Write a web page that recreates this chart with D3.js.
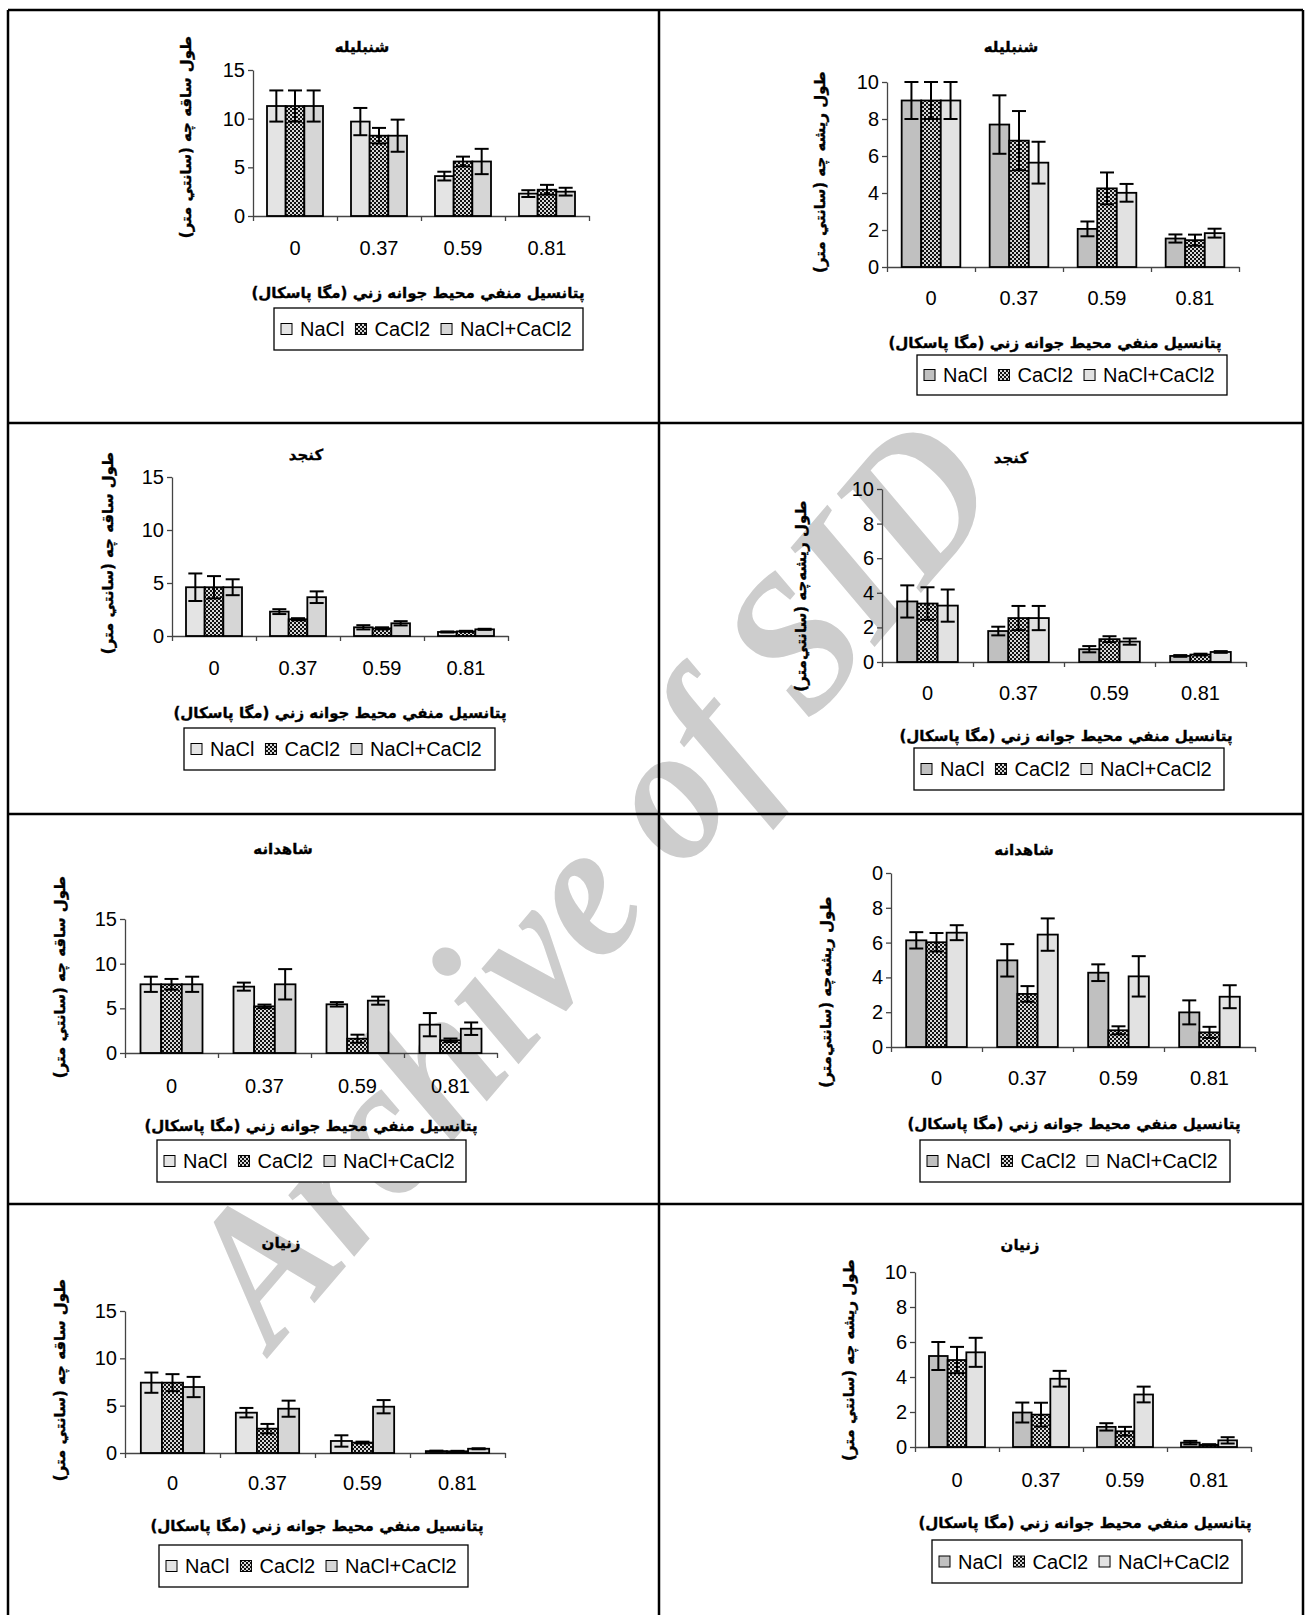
<!DOCTYPE html>
<html>
<head>
<meta charset="utf-8">
<script src="https://cdn.jsdelivr.net/npm/d3@7"></script>
<style>
body { margin: 0; background: #fff; }
svg { display: block; }
.fa { font-family: "DejaVu Sans", sans-serif; font-weight: bold; direction: rtl; stroke: #000; stroke-width: 0.35px; }
.lat { font-family: "Liberation Sans", Arial, sans-serif; }
</style>
</head>
<body>
<div id="chart"></div>
<script>
// categories = negative potential of the germination medium (MPa)
const categories = ["0", "0.37", "0.59", "0.81"]
const treatments = ["NaCl", "CaCl2", "NaCl+CaCl2"]

const plantNames = ["شنبليله", "كنجد", "شاهدانه", "زنيان"]
const stemLabel = "طول ساقه چه (سانتي متر)"
const rootLabel = "طول ريشه چه (سانتي متر)"
const rootLabel2 = "طول ريشه‌چه (سانتي‌متر)"
const xTitle = "پتانسيل منفي محيط جوانه زني (مگا پاسكال)"
const watermark = "Archive of SID"

const stemTicks = [0, 5, 10, 15]
const rootTicks = [0, 2, 4, 6, 8, 10]
const rootTickLabels = ["0", "2", "4", "6", "8", "10"]
const shahdaneRootTickLabels = ["0", "2", "4", "6", "8", "0"] // the top label is cut in the original

// one row per treatment (NaCl, CaCl2, NaCl+CaCl2), one column per category
const shanbalileStem = [[11.3, 9.7, 4.1, 2.3], [11.3, 8.25, 5.6, 2.7], [11.3, 8.25, 5.6, 2.5]]
const shanbalileStemErr = [[1.6, 1.4, 0.45, 0.35], [1.6, 0.8, 0.5, 0.5], [1.6, 1.65, 1.3, 0.4]]
const shanbalileRoot = [[9.0, 7.7, 2.06, 1.54], [9.0, 6.83, 4.25, 1.45], [9.0, 5.64, 4.01, 1.83]]
const shanbalileRootErr = [[1.0, 1.58, 0.4, 0.22], [1.0, 1.6, 0.86, 0.3], [1.0, 1.13, 0.48, 0.24]]
const konjedStem = [[4.6, 2.3, 0.82, 0.38], [4.6, 1.58, 0.72, 0.44], [4.6, 3.66, 1.2, 0.63]]
const konjedStemErr = [[1.3, 0.23, 0.2, 0.05], [1.05, 0.1, 0.1, 0.05], [0.75, 0.55, 0.2, 0.05]]
const konjedRoot = [[3.5, 1.79, 0.74, 0.35], [3.38, 2.54, 1.32, 0.43], [3.26, 2.54, 1.18, 0.58]]
const konjedRootErr = [[0.93, 0.25, 0.18, 0.05], [0.94, 0.7, 0.17, 0.05], [0.93, 0.7, 0.18, 0.05]]
const shahdaneStem = [[7.69, 7.43, 5.45, 3.17], [7.69, 5.22, 1.6, 1.42], [7.69, 7.69, 5.86, 2.72]]
const shahdaneStemErr = [[0.85, 0.45, 0.25, 1.3], [0.6, 0.2, 0.45, 0.2], [0.85, 1.7, 0.45, 0.7]]
const shahdaneRoot = [[6.13, 4.98, 4.27, 1.99], [6.02, 3.05, 0.96, 0.84], [6.57, 6.46, 4.06, 2.89]]
const shahdaneRootErr = [[0.47, 0.93, 0.48, 0.69], [0.53, 0.45, 0.23, 0.32], [0.43, 0.93, 1.16, 0.66]]
const zenyanStem = [[7.43, 4.26, 1.27, 0.2], [7.43, 2.57, 1.1, 0.18], [6.97, 4.68, 4.89, 0.45]]
const zenyanStemErr = [[1.07, 0.5, 0.6, 0.05], [0.9, 0.5, 0.1, 0.05], [1.07, 0.85, 0.7, 0.05]]
const zenyanRoot = [[5.2, 1.97, 1.15, 0.25], [4.97, 1.85, 0.9, 0.13], [5.41, 3.9, 3.0, 0.38]]
const zenyanRootErr = [[0.8, 0.57, 0.21, 0.1], [0.75, 0.68, 0.25, 0.03], [0.83, 0.45, 0.45, 0.18]]

// page layout
const width = 1308
const height = 1615
const gridX = [8, 659, 1303]
const gridY = [10, 423, 814, 1204]

// fills: stem charts (left column) and root charts (right column)
const stemFills = ["#e4e4e4", "url(#checker)", "#d6d6d6"]
const rootFills = ["#c0c0c0", "url(#checker)", "#e2e2e2"]

// axis box + text positions of each panel
const panels = [
  {title: plantNames[0], ylab: stemLabel, mean: shanbalileStem, err: shanbalileStemErr, fills: stemFills, ticks: stemTicks, tickLabels: null, yMax: 15,
   x: 253, yTop: 70, y0: 216, band: 84, titleXY: [362, 47], catY: 248, xtXY: [418, 292], ylXY: [186, 137], legend: [274, 308, 309, 42]},
  {title: plantNames[0], ylab: rootLabel, mean: shanbalileRoot, err: shanbalileRootErr, fills: rootFills, ticks: rootTicks, tickLabels: rootTickLabels, yMax: 10,
   x: 887, yTop: 82, y0: 267, band: 88, titleXY: [1011, 47], catY: 298, xtXY: [1055, 342], ylXY: [820, 172], legend: [917, 355, 310, 40]},
  {title: plantNames[1], ylab: stemLabel, mean: konjedStem, err: konjedStemErr, fills: stemFills, ticks: stemTicks, tickLabels: null, yMax: 15,
   x: 172, yTop: 477, y0: 636, band: 84, titleXY: [306, 455], catY: 668, xtXY: [340, 712], ylXY: [108, 553], legend: [184, 728, 311, 42]},
  {title: plantNames[1], ylab: rootLabel2, mean: konjedRoot, err: konjedRootErr, fills: rootFills, ticks: rootTicks, tickLabels: rootTickLabels, yMax: 10,
   x: 882, yTop: 489, y0: 662, band: 91, titleXY: [1011, 458], catY: 693, xtXY: [1066, 735], ylXY: [801, 596], legend: [914, 748, 310, 42]},
  {title: plantNames[2], ylab: stemLabel, mean: shahdaneStem, err: shahdaneStemErr, fills: stemFills, ticks: stemTicks, tickLabels: null, yMax: 15,
   x: 125, yTop: 919, y0: 1053, band: 93, titleXY: [283, 849], catY: 1086, xtXY: [311, 1125], ylXY: [60, 977], legend: [157, 1140, 309, 42]},
  {title: plantNames[2], ylab: rootLabel2, mean: shahdaneRoot, err: shahdaneRootErr, fills: rootFills, ticks: rootTicks, tickLabels: shahdaneRootTickLabels, yMax: 10,
   x: 891, yTop: 873, y0: 1047, band: 91, titleXY: [1024, 850], catY: 1078, xtXY: [1074, 1123], ylXY: [826, 992], legend: [920, 1140, 310, 42]},
  {title: plantNames[3], ylab: stemLabel, mean: zenyanStem, err: zenyanStemErr, fills: stemFills, ticks: stemTicks, tickLabels: null, yMax: 15,
   x: 125, yTop: 1311, y0: 1453, band: 95, titleXY: [281, 1243], catY: 1483, xtXY: [317, 1525], ylXY: [60, 1380], legend: [159, 1545, 309, 42]},
  {title: plantNames[3], ylab: rootLabel, mean: zenyanRoot, err: zenyanRootErr, fills: rootFills, ticks: rootTicks, tickLabels: rootTickLabels, yMax: 10,
   x: 915, yTop: 1272, y0: 1447, band: 84, titleXY: [1020, 1245], catY: 1480, xtXY: [1085, 1522], ylXY: [849, 1360], legend: [932, 1540, 310, 43]}
]

const svg = d3.select("#chart").append("svg")
  .attr("width", width)
  .attr("height", height)

// checkered fill used for CaCl2
const pat = svg.append("defs").append("pattern")
  .attr("id", "checker")
  .attr("width", 4).attr("height", 4)
  .attr("patternUnits", "userSpaceOnUse")
pat.append("rect").attr("width", 4).attr("height", 4).attr("fill", "#d8d8d8")
pat.append("rect").attr("width", 2).attr("height", 2).attr("fill", "#111")
pat.append("rect").attr("x", 2).attr("y", 2).attr("width", 2).attr("height", 2).attr("fill", "#111")

svg.append("rect").attr("width", width).attr("height", height).attr("fill", "#fff")

// watermark, behind everything
svg.append("text")
  .attr("transform", "translate(640,922) rotate(-49.5)")
  .attr("text-anchor", "middle")
  .attr("textLength", 1130)
  .attr("lengthAdjust", "spacingAndGlyphs")
  .style("font-family", '"Liberation Serif", "Times New Roman", serif')
  .style("font-weight", "bold")
  .style("font-style", "italic")
  .style("font-size", "196px")
  .attr("fill", "#cdcdcd")
  .text(watermark)

// frame lines between the panels
gridX.forEach(x => {
  svg.append("line").attr("x1", x).attr("x2", x).attr("y1", gridY[0]).attr("y2", height)
    .attr("stroke", "#000").attr("stroke-width", 2.5)
})
gridY.forEach(y => {
  svg.append("line").attr("x1", gridX[0]).attr("x2", gridX[2]).attr("y1", y).attr("y2", y)
    .attr("stroke", "#000").attr("stroke-width", 2.5)
})

panels.forEach(p => drawPanel(p))

function drawPanel(p) {
  const g = svg.append("g")
  const yScale = d3.scaleLinear().domain([0, p.yMax]).range([p.y0, p.yTop])
  const x0 = d3.scaleBand().domain(categories).range([p.x, p.x + 4 * p.band])
  const x1 = d3.scaleBand().domain(treatments).range([0, x0.bandwidth()])
    .paddingInner(0).paddingOuter(0.75)

  // y axis
  const yAxis = g.append("g")
    .attr("transform", "translate(" + p.x + ",0)")
    .call(d3.axisLeft(yScale).tickValues(p.ticks).tickSize(5).tickSizeOuter(0).tickPadding(3)
      .tickFormat((d, i) => p.tickLabels ? p.tickLabels[i] : d))
  yAxis.attr("font-size", 20).attr("font-family", '"Liberation Sans", Arial, sans-serif')
  yAxis.selectAll("path, line").attr("stroke", "#444").attr("stroke-width", 1.3)
  yAxis.selectAll("text").attr("fill", "#000")

  // x axis: ticks on the category boundaries
  const xEdge = d3.scaleLinear().domain([0, 4]).range([p.x, p.x + 4 * p.band])
  const xAxis = g.append("g")
    .attr("transform", "translate(0," + p.y0 + ")")
    .call(d3.axisBottom(xEdge).tickValues([0, 1, 2, 3, 4]).tickSize(5).tickSizeOuter(0).tickFormat(""))
  xAxis.selectAll("path, line").attr("stroke", "#444").attr("stroke-width", 1.3)

  // bars
  treatments.forEach((t, i) => {
    g.selectAll(null)
      .data(p.mean[i])
      .join("rect")
      .attr("x", (d, j) => x0(categories[j]) + x1(t))
      .attr("y", d => yScale(d))
      .attr("width", x1.bandwidth())
      .attr("height", d => yScale(0) - yScale(d))
      .attr("fill", p.fills[i])
      .attr("stroke", "#000")
      .attr("stroke-width", 1.8)
  })

  // error bars
  treatments.forEach((t, i) => {
    const cx = j => x0(categories[j]) + x1(t) + x1.bandwidth() / 2
    const rows = p.mean[i].map((m, j) => ({j: j, hi: m + p.err[i][j], lo: m - p.err[i][j]}))
    const eg = g.append("g").attr("stroke", "#000").attr("stroke-width", 2)
    eg.selectAll(null).data(rows).join("line")
      .attr("x1", d => cx(d.j)).attr("x2", d => cx(d.j))
      .attr("y1", d => yScale(d.hi)).attr("y2", d => yScale(d.lo))
    eg.selectAll(null).data(rows).join("line")
      .attr("x1", d => cx(d.j) - 7).attr("x2", d => cx(d.j) + 7)
      .attr("y1", d => yScale(d.hi)).attr("y2", d => yScale(d.hi))
    eg.selectAll(null).data(rows).join("line")
      .attr("x1", d => cx(d.j) - 7).attr("x2", d => cx(d.j) + 7)
      .attr("y1", d => yScale(d.lo)).attr("y2", d => yScale(d.lo))
  })

  // category labels
  g.selectAll(null).data(categories).join("text")
    .attr("class", "lat")
    .attr("x", d => x0(d) + x0.bandwidth() / 2)
    .attr("y", p.catY + 7)
    .attr("text-anchor", "middle")
    .style("font-size", "20px")
    .text(d => d)

  // title
  g.append("text").attr("class", "fa")
    .attr("x", p.titleXY[0]).attr("y", p.titleXY[1] + 5)
    .attr("text-anchor", "middle")
    .style("font-size", "15px")
    .text(p.title)

  // y label
  g.append("text").attr("class", "fa")
    .attr("transform", "translate(" + p.ylXY[0] + "," + p.ylXY[1] + ") rotate(-90)")
    .attr("text-anchor", "middle")
    .attr("dy", "0.35em")
    .style("font-size", "15px")
    .text(p.ylab)

  // x title
  g.append("text").attr("class", "fa")
    .attr("x", p.xtXY[0]).attr("y", p.xtXY[1] + 6)
    .attr("text-anchor", "middle")
    .style("font-size", "15px")
    .text(xTitle)

  // legend
  const lg = p.legend
  const leg = g.append("g")
  leg.append("rect").attr("x", lg[0]).attr("y", lg[1]).attr("width", lg[2]).attr("height", lg[3])
    .attr("fill", "#fff").attr("stroke", "#000").attr("stroke-width", 1.3)
  let cx = lg[0] + 7
  const cy = lg[1] + lg[3] / 2
  treatments.forEach((t, i) => {
    leg.append("rect").attr("x", cx).attr("y", cy - 5.5).attr("width", 11).attr("height", 11)
      .attr("fill", p.fills[i]).attr("stroke", "#000").attr("stroke-width", 1)
    const txt = leg.append("text").attr("class", "lat")
      .attr("x", cx + 19).attr("y", cy + 7)
      .style("font-size", "20px")
      .text(t)
    cx += 19 + txt.node().getComputedTextLength() + 11
  })
}
</script>
</body>
</html>
